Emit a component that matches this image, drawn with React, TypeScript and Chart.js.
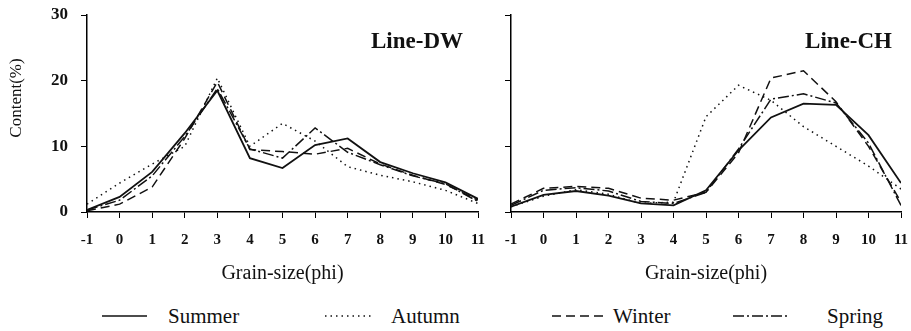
import React, { useEffect, useRef } from "react";
import { Chart, registerables } from "chart.js";

Chart.register(...registerables);

// ---------- data ----------
const grainSize = [-1, 0, 1, 2, 3, 4, 5, 6, 7, 8, 9, 10, 11];
const yTickValues = [0, 10, 20, 30];
const seasons = ["Summer", "Autumn", "Winter", "Spring"];
const panelTitles = ["Line-DW", "Line-CH"];
const xAxisTitle = "Grain-size(phi)";
const yAxisTitle = "Content(%)";

// Line-DW
const dwSummer = [0.3, 2.3, 6.1, 12.0, 18.5, 8.2, 6.7, 10.2, 11.2, 7.6, 5.9, 4.5, 2.0];
const dwAutumn = [1.2, 4.4, 7.3, 10.0, 20.4, 10.0, 13.5, 10.8, 6.9, 5.6, 4.6, 3.3, 1.3];
const dwWinter = [0.2, 1.2, 3.8, 11.2, 19.8, 9.5, 9.2, 8.8, 9.7, 7.3, 5.6, 4.2, 1.8];
const dwSpring = [0.3, 1.8, 5.5, 11.5, 18.8, 9.6, 8.2, 12.8, 9.1, 7.2, 5.5, 4.3, 1.6];

// Line-CH
const chSummer = [0.8, 2.6, 3.2, 2.5, 1.3, 1.0, 3.3, 9.4, 14.4, 16.5, 16.3, 11.7, 4.4];
const chAutumn = [0.8, 2.4, 3.4, 2.7, 1.3, 1.5, 14.5, 19.3, 17.0, 13.0, 10.0, 7.0, 3.5];
const chWinter = [1.2, 3.6, 3.9, 3.6, 2.1, 1.8, 3.0, 9.0, 20.4, 21.5, 16.8, 10.0, 1.5];
const chSpring = [1.0, 3.3, 3.7, 3.2, 1.6, 1.3, 3.0, 9.6, 17.2, 18.0, 16.6, 10.5, 1.0];

// ---------- styles ----------
const FONT = '"Liberation Serif", "Times New Roman", serif';
const INK = "#111";
const dashes: number[][] = [[], [1.5, 4], [9, 5], [11, 3, 2, 3]];

Chart.defaults.font.family = FONT;
Chart.defaults.color = INK;

const panelLabelPlugin = {
  id: "panelLabel",
  afterDraw(chart: any, _args: any, opts: any) {
    const { ctx, chartArea } = chart;
    ctx.save();
    ctx.fillStyle = INK;
    ctx.font = `bold 23px ${FONT}`;
    ctx.textAlign = "right";
    ctx.textBaseline = "middle";
    ctx.fillText(opts.text, chartArea.right - opts.offsetRight, 42);
    if (opts.yTitle) {
      ctx.translate(17, 98);
      ctx.rotate(-Math.PI / 2);
      ctx.textAlign = "center";
      ctx.font = `17px ${FONT}`;
      ctx.fillText(opts.yTitle, 0, 0);
    }
    ctx.restore();
  },
};

function makeConfig(
  title: string,
  series: number[][],
  showY: boolean,
  yWidth: number,
  padRight: number,
  labelOffset: number
): any {
  return {
    type: "line",
    data: {
      datasets: series.map((vals, i) => ({
        label: seasons[i],
        data: grainSize.map((g, j) => ({ x: g, y: vals[j] })),
        borderColor: INK,
        borderWidth: i === 0 ? 1.8 : 1.5,
        borderDash: dashes[i],
        pointRadius: 0,
        tension: 0,
        fill: false,
      })),
    },
    options: {
      animation: false,
      responsive: false,
      layout: { padding: { top: 15, right: padRight, left: 0, bottom: 0 } },
      plugins: {
        legend: { display: false },
        tooltip: { enabled: false },
        panelLabel: { text: title, offsetRight: labelOffset, yTitle: showY ? yAxisTitle : null },
      },
      scales: {
        x: {
          type: "linear",
          min: -1,
          max: 11,
          afterBuildTicks: (s: any) => {
            s.ticks = grainSize.map((v) => ({ value: v }));
          },
          afterFit: (s: any) => {
            s.height = 74;
            s.paddingLeft = 0;
            s.paddingRight = 0;
          },
          border: { display: true, color: "#000", width: 1.5 },
          grid: { drawOnChartArea: false, drawTicks: true, tickLength: 6, color: "#000" },
          ticks: { font: { size: 15, weight: "bold" }, padding: 13, color: INK, maxRotation: 0, autoSkip: false },
          title: { display: true, text: xAxisTitle, font: { size: 20 }, padding: 0, color: INK },
        },
        y: {
          type: "linear",
          min: 0,
          max: 30,
          afterBuildTicks: (s: any) => {
            s.ticks = yTickValues.map((v) => ({ value: v }));
          },
          afterFit: (s: any) => {
            s.width = yWidth;
            s.paddingTop = 0;
            s.paddingBottom = 0;
          },
          border: { display: true, color: "#000", width: 1.5 },
          grid: { drawOnChartArea: false, drawTicks: true, tickLength: 6, color: "#000" },
          ticks: { display: showY, font: { size: 17, weight: "bold" }, padding: 13, color: INK },
        },
      },
    },
    plugins: [panelLabelPlugin],
  };
}

function Panel(props: {
  left: number;
  width: number;
  title: string;
  series: number[][];
  showY: boolean;
  yWidth: number;
  padRight: number;
  labelOffset: number;
}) {
  const ref = useRef<HTMLCanvasElement | null>(null);
  useEffect(() => {
    if (!ref.current) return;
    const chart = new Chart(
      ref.current,
      makeConfig(props.title, props.series, props.showY, props.yWidth, props.padRight, props.labelOffset)
    );
    return () => chart.destroy();
  }, []);
  return (
    <canvas
      ref={ref}
      width={props.width}
      height={286}
      style={{ position: "absolute", left: props.left, top: 0, width: props.width, height: 286 }}
    />
  );
}

function LegendSample({ dash, width }: { dash: number[]; width: number }) {
  return (
    <svg width={width} height={6} style={{ display: "block" }}>
      <line x1={0} y1={3} x2={width} y2={3} stroke={INK} strokeWidth={1.5} strokeDasharray={dash.length ? dash.join(" ") : undefined} />
    </svg>
  );
}

const legendLineX = [102, 325, 552, 733];
const legendLineW = [45, 48, 52, 55];
const legendTextX = [168, 391, 613, 827];

export default function App() {
  return (
    <div style={{ position: "absolute", left: 0, top: 0, width: 911, height: 331, background: "#fff", overflow: "hidden" }}>
      <Panel left={0} width={490} title={panelTitles[0]} series={[dwSummer, dwAutumn, dwWinter, dwSpring]} showY={true} yWidth={87} padRight={12} labelOffset={15} />
      <Panel left={490} width={421} title={panelTitles[1]} series={[chSummer, chAutumn, chWinter, chSpring]} showY={false} yWidth={21} padRight={10} labelOffset={9} />
      {seasons.map((s, i) => (
        <React.Fragment key={s}>
          <div style={{ position: "absolute", left: legendLineX[i], top: 313 }}>
            <LegendSample dash={dashes[i]} width={legendLineW[i]} />
          </div>
          <div
            style={{
              position: "absolute",
              left: legendTextX[i],
              top: 304,
              fontFamily: FONT,
              fontSize: 21,
              lineHeight: "24px",
              color: INK,
              whiteSpace: "nowrap",
            }}
          >
            {s}
          </div>
        </React.Fragment>
      ))}
    </div>
  );
}
